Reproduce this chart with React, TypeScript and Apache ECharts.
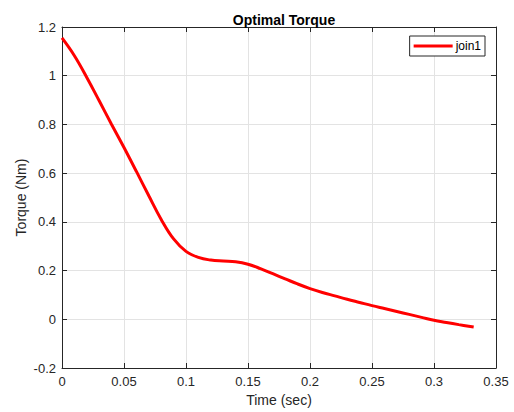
import React, { useEffect, useRef } from "react";
import * as echarts from "echarts";

const timeSec = [0, 0.01, 0.02, 0.03, 0.04, 0.05, 0.06, 0.07, 0.08, 0.09, 0.1, 0.11, 0.12, 0.13, 0.14, 0.15, 0.16, 0.17, 0.18, 0.19, 0.2, 0.21, 0.22, 0.23, 0.24, 0.25, 0.26, 0.27, 0.28, 0.29, 0.3, 0.31, 0.32, 0.332];
const torque = [1.155, 1.082, 0.993, 0.897, 0.8, 0.705, 0.607, 0.507, 0.41, 0.33, 0.279, 0.254, 0.243, 0.239, 0.236, 0.226, 0.208, 0.187, 0.166, 0.145, 0.126, 0.11, 0.096, 0.082, 0.069, 0.056, 0.044, 0.032, 0.02, 0.008, -0.004, -0.013, -0.022, -0.032];
const seriesName = "join1";
const xTicks = { min: 0, max: 0.35, interval: 0.05 };
const yTicks = { min: -0.2, max: 1.2, interval: 0.2 };

const FONT = "Liberation Sans, Arial, Helvetica, sans-serif";
const INK = "#262626";

export default function App() {
  const ref = useRef<HTMLDivElement>(null);
  useEffect(() => {
    document.body.style.margin = "0";
    if (!ref.current) return;
    const chart = echarts.init(ref.current, undefined, { renderer: "svg" });
    const data = timeSec.map((t, i) => [t, torque[i]]);
    const fmt = (v: number) => {
      const r = Math.round(v * 100) / 100;
      return String(r);
    };
    const baseX = {
      type: "value",
      min: xTicks.min,
      max: xTicks.max,
      interval: xTicks.interval,
    };
    const baseY = {
      type: "value",
      min: yTicks.min,
      max: yTicks.max,
      interval: yTicks.interval,
    };
    chart.setOption({
      animation: false,
      backgroundColor: "#ffffff",
      title: {
        text: "Optimal Torque",
        left: 279,
        top: 8,
        textAlign: "center",
        textStyle: { fontFamily: FONT, fontSize: 14, fontWeight: "bold", color: "#000" },
      },
      legend: {
        right: 29,
        top: 36,
        orient: "vertical",
        data: [{ name: seriesName, icon: "rect" }],
        itemWidth: 39,
        itemHeight: 3,
        borderColor: INK,
        borderWidth: 1,
        borderRadius: 0,
        backgroundColor: "#fff",
        padding: [4, 4, 4, 4],
        textStyle: { fontFamily: FONT, fontSize: 12, color: "#000", padding: [0, 0, 0, -2] },
      },
      grid: { left: 62, right: 18, top: 27, bottom: 43 },
      xAxis: [
        {
          ...baseX,
          position: "bottom",
          name: "Time (sec)",
          nameLocation: "middle",
          nameGap: 25,
          nameMoveOverlap: false,
          nameTextStyle: { fontFamily: FONT, fontSize: 14, color: INK },
          axisLine: { show: true, onZero: false, lineStyle: { color: INK, width: 1 } },
          axisTick: { show: true, inside: true, length: 5, lineStyle: { color: INK } },
          axisLabel: { margin: 7, fontFamily: FONT, fontSize: 13, color: INK, formatter: fmt },
          splitLine: { show: true, lineStyle: { color: "#e3e3e3", width: 1 } },
        },
        {
          ...baseX,
          position: "top",
          axisLine: { show: true, onZero: false, lineStyle: { color: INK, width: 1 } },
          axisTick: { show: true, inside: true, length: 5, lineStyle: { color: INK } },
          axisLabel: { show: false },
          splitLine: { show: false },
        },
      ],
      yAxis: [
        {
          ...baseY,
          position: "left",
          name: "Torque (Nm)",
          nameLocation: "middle",
          nameGap: 34,
          nameRotate: 90,
          nameMoveOverlap: false,
          nameTextStyle: { fontFamily: FONT, fontSize: 14, color: INK },
          axisLine: { show: true, onZero: false, lineStyle: { color: INK, width: 1 } },
          axisTick: { show: true, inside: true, length: 5, lineStyle: { color: INK } },
          axisLabel: { margin: 6, fontFamily: FONT, fontSize: 13, color: INK, formatter: fmt },
          splitLine: { show: true, lineStyle: { color: "#e3e3e3", width: 1 } },
        },
        {
          ...baseY,
          position: "right",
          axisLine: { show: true, onZero: false, lineStyle: { color: INK, width: 1 } },
          axisTick: { show: true, inside: true, length: 5, lineStyle: { color: INK } },
          axisLabel: { show: false },
          splitLine: { show: false },
        },
      ],
      series: [
        {
          name: seriesName,
          type: "line",
          data,
          smooth: 0.4,
          showSymbol: false,
          symbol: "none",
          itemStyle: { color: "#ff0000" },
          lineStyle: { color: "#ff0000", width: 3 },
        },
      ],
    });
    return () => chart.dispose();
  }, []);
  return <div ref={ref} style={{ position: "absolute", left: 0, top: 0, width: 514, height: 412 }} />;
}
